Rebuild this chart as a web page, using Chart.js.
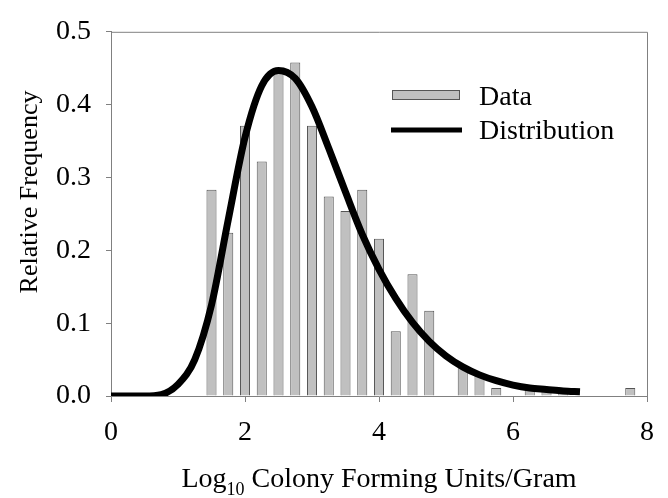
<!DOCTYPE html>
<html>
<head>
<meta charset="utf-8">
<script src="https://cdn.jsdelivr.net/npm/chart.js@4.4.1/dist/chart.umd.min.js"></script>
<style>
    html, body { margin: 0; padding: 0; background: #ffffff; }
    #wrap { width: 668px; height: 498px; }
</style>
</head>
<body>
<div id="wrap"><canvas id="chart" width="668" height="498"></canvas></div>
<script>
// histogram of the data (bin centres, log10 CFU/g)
const binCenters = [1.5, 1.75, 2.0, 2.25, 2.5, 2.75, 3.0, 3.25, 3.5, 3.75, 4.0, 4.25, 4.5, 4.75,
    5.25, 5.5, 5.75, 6.25, 6.5, 6.75, 7.75];
const relFrequency = [0.283, 0.224, 0.371, 0.322, 0.443, 0.458, 0.371, 0.274, 0.254, 0.283, 0.216, 0.089, 0.167, 0.117,
    0.040, 0.028, 0.011, 0.010, 0.008, 0.009, 0.011];

// fitted distribution
const curveX = [0, 0.25, 0.5, 0.75, 1.0, 1.25, 1.5, 1.75, 2.0, 2.25, 2.5, 2.75, 3.0, 3.25, 3.5, 3.75,
    4.0, 4.25, 4.5, 4.75, 5.0, 5.25, 5.5, 5.75, 6.0, 6.25, 6.5, 6.75, 7.0];
const curveY = [0, 0, 0, 0.002, 0.016, 0.050, 0.125, 0.242, 0.355, 0.426, 0.447, 0.436, 0.397, 0.340, 0.280, 0.222,
    0.174, 0.134, 0.101, 0.075, 0.055, 0.040, 0.029, 0.021, 0.015, 0.011, 0.009, 0.007, 0.006];

const xTicks = [0, 2, 4, 6, 8];
const yTicks = [0.0, 0.1, 0.2, 0.3, 0.4, 0.5];

const serif = '"Liberation Serif", "Times New Roman", serif';
const axisGrey = '#808080';

const framePlugin = {
    id: 'frame',
    afterDraw(chart) {
        const ctx = chart.ctx;
        const a = chart.chartArea;
        ctx.save();

        // top and right edges of the box
        ctx.strokeStyle = axisGrey;
        ctx.lineWidth = 1;
        ctx.beginPath();
        ctx.moveTo(a.left, a.top + 0.5);
        ctx.lineTo(a.right + 0.5, a.top + 0.5);
        ctx.lineTo(a.right + 0.5, a.bottom);
        ctx.stroke();

        // legend
        const bars = chart.data.datasets[1];
        const line = chart.data.datasets[0];
        ctx.fillStyle = bars.backgroundColor;
        ctx.fillRect(392, 90, 68, 10);
        ctx.strokeStyle = bars.borderColor;
        ctx.strokeRect(392.5, 90.5, 67, 9);

        ctx.strokeStyle = line.borderColor;
        ctx.lineWidth = 5;
        ctx.beginPath();
        ctx.moveTo(391, 130);
        ctx.lineTo(462, 130);
        ctx.stroke();

        ctx.fillStyle = '#000';
        ctx.font = '28px ' + serif;
        ctx.textAlign = 'left';
        ctx.textBaseline = 'alphabetic';
        ctx.fillText(bars.label, 479, 105);
        ctx.fillText(line.label, 479, 139);

        // x axis title with subscript
        const main = '28px ' + serif;
        const sub = '18px ' + serif;
        const t1 = 'Log', t2 = '10', t3 = ' Colony Forming Units/Gram';
        ctx.font = main;
        const w1 = ctx.measureText(t1).width;
        const w3 = ctx.measureText(t3).width;
        ctx.font = sub;
        const w2 = ctx.measureText(t2).width;
        let x = (a.left + a.right) / 2 - (w1 + w2 + w3) / 2;
        const base = 487;
        ctx.font = main;
        ctx.fillText(t1, x, base);
        x += w1;
        ctx.font = sub;
        ctx.fillText(t2, x, base + 8);
        x += w2;
        ctx.font = main;
        ctx.fillText(t3, x, base);

        // y axis title
        ctx.translate(37, 192);
        ctx.rotate(-Math.PI / 2);
        ctx.font = '26px ' + serif;
        ctx.textAlign = 'center';
        ctx.fillText('Relative Frequency', 0, 0);
        ctx.restore();
    }
};

const ctx = document.getElementById('chart').getContext('2d');
new Chart(ctx, {
    type: 'bar',
    data: {
        datasets: [{
            type: 'line',
            label: 'Distribution',
            data: curveX.map((x, i) => ({ x: x, y: curveY[i] })),
            borderColor: '#000000',
            borderWidth: 7,
            pointRadius: 0,
            fill: false,
            cubicInterpolationMode: 'monotone',
            order: 1
        }, {
            type: 'bar',
            label: 'Data',
            data: binCenters.map((x, i) => ({ x: x, y: relFrequency[i] })),
            backgroundColor: '#c0c0c0',
            borderColor: '#555555',
            borderWidth: 1,
            barPercentage: 0.6,
            categoryPercentage: 1.0,
            order: 2
        }]
    },
    options: {
        responsive: false,
        animation: false,
        devicePixelRatio: 1,
        layout: { padding: { left: 0, top: 19, right: 20, bottom: 0 } },
        plugins: {
            legend: { display: false },
            tooltip: { enabled: false }
        },
        scales: {
            x: {
                type: 'linear',
                min: 0,
                max: 8,
                offset: false,
                afterFit: scale => { scale.height = 102; },
                afterBuildTicks: scale => { scale.ticks = xTicks.map(v => ({ value: v })); },
                ticks: {
                    color: '#000',
                    padding: 14,
                    font: { family: serif, size: 28 },
                    callback: v => String(v)
                },
                grid: { drawOnChartArea: false, offset: false, tickLength: 6, color: axisGrey },
                border: { display: true, color: axisGrey }
            },
            y: {
                min: 0,
                max: 0.5,
                afterFit: scale => { scale.width = 111; },
                afterBuildTicks: scale => { scale.ticks = yTicks.map(v => ({ value: v })); },
                ticks: {
                    color: '#000',
                    padding: 15,
                    font: { family: serif, size: 28 },
                    callback: v => v.toFixed(1)
                },
                grid: { drawOnChartArea: false, tickLength: 5, color: axisGrey },
                border: { display: true, color: axisGrey }
            }
        }
    },
    plugins: [framePlugin]
});
</script>
</body>
</html>
